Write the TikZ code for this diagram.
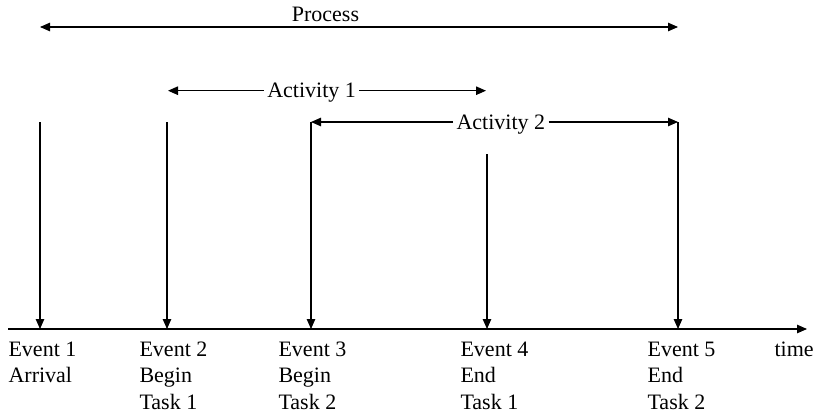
\documentclass[tikz,border=0pt]{standalone}
\usepackage{fontspec}
\setmainfont{Liberation Serif}
\usetikzlibrary{arrows.meta}
\begin{document}
\begin{tikzpicture}[x=1pt,y=-1pt,
  line width=1.1pt,
  arr/.style={-{Triangle[length=10pt,width=8.5pt]}},
  darr/.style={{Triangle[length=10pt,width=8.5pt]}-{Triangle[length=10pt,width=8.5pt]}},
  lbl/.style={font=\fontsize{22}{26}\selectfont, inner sep=0pt},
  span/.style={lbl, inner xsep=3pt}]
\useasboundingbox (0,0) rectangle (819,415);

% time axis
\coordinate (ax0) at (8,329);
\coordinate (ax1) at (807,329);
\draw[arr] (ax0) -- (ax1);

% event markers: top of each marker and its foot on the axis
\foreach \n/\x/\y in {1/40/122, 2/167/122, 3/311/122, 4/487/154, 5/678/122} {
  \coordinate (t\n) at (\x,\y);
  \coordinate (f\n) at (\x,329);
  \draw[arr] (t\n) -- (f\n);
}

% process span
\coordinate (p0) at (40,27);
\coordinate (p1) at (678,27);
\draw[darr] (p0) -- (p1);
\node[lbl, anchor=base] (proc) at (325.5,21) {Process};

% activity 1 span
\coordinate (a1l) at (168,90.7);
\coordinate (a1r) at (486,90.7);
\node[span, anchor=base west] (act1) at (263.7,97) {Activity 1};
\draw[arr] (act1.west |- a1l) -- (a1l);
\draw[arr] (act1.east |- a1r) -- (a1r);

% activity 2 span, joined to the markers of events 3 and 5
\node[span, anchor=base west] (act2) at (453,129) {Activity 2};
\draw[arr] (act2.west |- t3) -- (t3);
\draw[arr] (act2.east |- t5) -- (t5);

% event captions
\foreach \n/\x/\a/\b/\c in {1/8/Event 1/Arrival/, 2/139/Event 2/Begin/Task 1,
    3/278/Event 3/Begin/Task 2, 4/460/Event 4/End/Task 1, 5/647/Event 5/End/Task 2} {
  \node[lbl, anchor=base west] (ea\n) at (\x,356) {\a};
  \node[lbl, anchor=base west] (eb\n) at (\x,382.5) {\b};
  \node[lbl, anchor=base west] (ec\n) at (\x,409) {\c};
}
\node[lbl, anchor=base west] (time) at (774,356) {time};
\end{tikzpicture}
\end{document}
